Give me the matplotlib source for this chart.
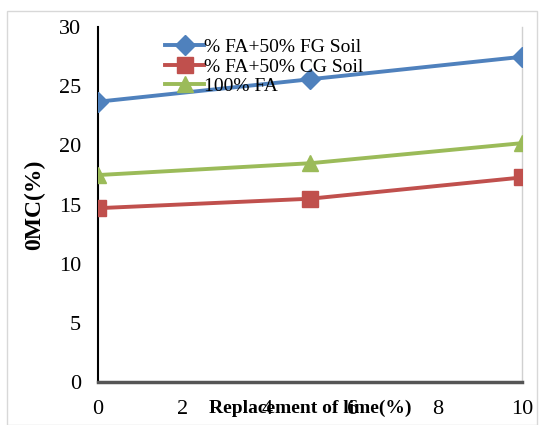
import numpy as np
import matplotlib.pyplot as plt

plt.rcParams['font.family'] = ['Liberation Serif', 'DejaVu Serif']

lime = [0, 5, 10]
fg_soil = [23.7, 25.6, 27.5]
cg_soil = [14.7, 15.5, 17.3]
fa_100 = [17.5, 18.5, 20.2]
labels = ['% FA+50% FG Soil', '% FA+50% CG Soil', '100% FA']

fig = plt.figure(figsize=(5.44, 4.25), dpi=100)
ax = fig.add_axes([0.18, 0.101, 0.78, 0.835])

ax.plot(lime, fg_soil, color='#4F81BD', lw=2.8, marker='D', ms=10, label=labels[0], zorder=3)
ax.plot(lime, cg_soil, color='#C0504D', lw=2.8, marker='s', ms=11, label=labels[1], zorder=3)
ax.plot(lime, fa_100, color='#9BBB59', lw=2.8, marker='^', ms=12, label=labels[2], zorder=3)

ax.set_xlim(0, 10)
ax.set_ylim(0, 30)
ax.set_xticks([0, 2, 4, 6, 8, 10])
ax.set_yticks([0, 5, 10, 15, 20, 25, 30])
ax.tick_params(axis='both', length=0, labelsize=16)
ax.tick_params(axis='x', pad=13)
ax.tick_params(axis='y', pad=12)

ax.spines['top'].set_visible(False)
ax.spines['right'].set_color('#d0d0d0')
ax.spines['right'].set_linewidth(1)
ax.spines['left'].set_linewidth(1.5)
ax.spines['bottom'].set_linewidth(2.5)
ax.spines['bottom'].set_color('#555555')

ax.set_xlabel('Replacement of lime(%)', fontsize=14, fontweight='bold', labelpad=-14)
ax.set_ylabel('0MC(%)', fontsize=17, fontweight='bold', labelpad=10)

ax.legend(loc='upper left', bbox_to_anchor=(0.14, 0.99), frameon=False, fontsize=14,
          handlelength=2.0, handletextpad=0.0, labelspacing=0.1, borderaxespad=0)

# light outer border
fig.patches.append(plt.Rectangle((0.012, 0.0), 0.975, 0.975, transform=fig.transFigure,
                                 fill=False, edgecolor='#d8d8d8', lw=1))

plt.savefig('out.png', dpi=100)
